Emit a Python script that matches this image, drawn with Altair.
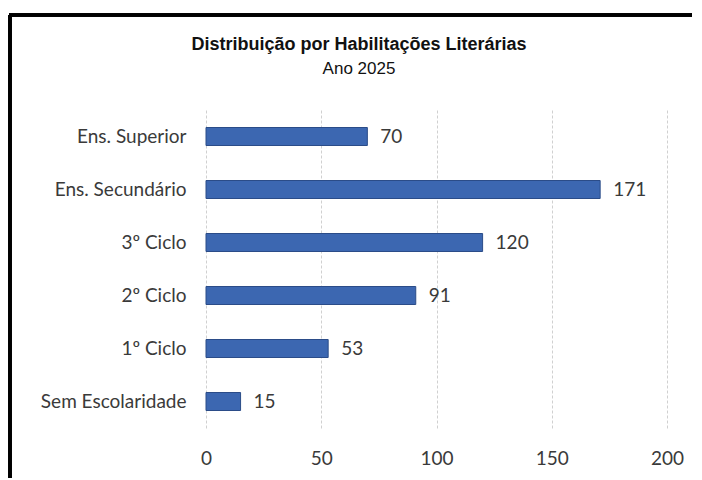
import altair as alt
import pandas as pd

categories = ["Ens. Superior", "Ens. Secundário", "3º Ciclo", "2º Ciclo", "1º Ciclo", "Sem Escolaridade"]
values = [70, 171, 120, 91, 53, 15]
x_ticks = [0, 50, 100, 150, 200]
title_text = "Distribuição por Habilitações Literárias"
subtitle_text = "Ano 2025"

df = pd.DataFrame({"cat": categories, "val": values})

FONT = "Lato"
FS = 19
TXT = "#3a3a3a"

x_enc = alt.X("val:Q", scale=alt.Scale(domain=[0, 200], nice=False),
              axis=alt.Axis(values=x_ticks, title=None, grid=True, domain=False, ticks=False,
                            labelFlush=False, labelPadding=21, labelFontSize=FS, labelFont=FONT,
                            labelColor=TXT, gridColor="#d0d0d0", gridDash=[3, 2], gridWidth=1))
y_enc = alt.Y("cat:N", sort=categories, scale=alt.Scale(paddingInner=0.66, paddingOuter=0.33),
              axis=alt.Axis(title=None, domain=False, ticks=False, labelPadding=20,
                            labelFontSize=FS, labelFont=FONT, labelColor=TXT))

bars = alt.Chart(df).mark_bar(color="#3C67B1", stroke="#2B4C88", strokeWidth=1, size=18).encode(
    x=x_enc, y=y_enc)

labels = alt.Chart(df).mark_text(align="left", baseline="middle", dx=13, fontSize=FS,
                                 font=FONT, color=TXT).encode(
    x="val:Q", y=alt.Y("cat:N", sort=categories), text="val:Q")

title_df = pd.DataFrame({"t": [title_text]})
sub_df = pd.DataFrame({"t": [subtitle_text]})
title_mark = alt.Chart(title_df).mark_text(
    font="Liberation Sans", fontSize=18, fontWeight="bold", color="#111111",
    align="center", baseline="middle").encode(
    x=alt.value(153), y=alt.value(-65), text="t:N")
sub_mark = alt.Chart(sub_df).mark_text(
    font="Liberation Sans", fontSize=17, color="#111111",
    align="center", baseline="middle").encode(
    x=alt.value(153), y=alt.value(-41), text="t:N")

frame_v = alt.Chart(df).mark_rule(color="black", strokeWidth=3).encode(
    x=alt.value(-196), y=alt.value(-95), y2=alt.value(420))
frame_h = alt.Chart(df).mark_rule(color="black", strokeWidth=3).encode(
    x=alt.value(-197), x2=alt.value(600), y=alt.value(-95))

chart = alt.layer(bars, labels, title_mark, sub_mark, frame_v, frame_h).properties(
    width=461, height=318,
    autosize=alt.AutoSizeParams(type="none"),
    padding={"left": 198, "top": 102, "right": 25, "bottom": 50},
    background="white",
).configure_view(strokeWidth=0, stroke="transparent")

chart.save("out.html", embed_options={"renderer": "svg", "actions": False})
